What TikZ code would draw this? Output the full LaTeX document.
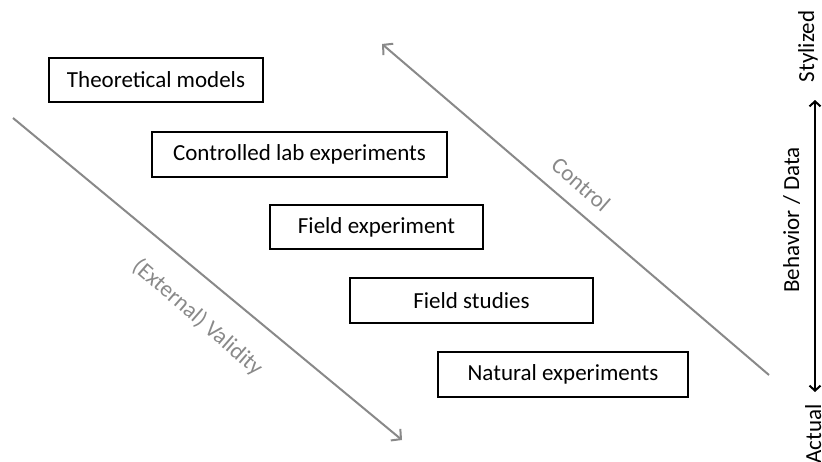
\documentclass[tikz,border=0pt]{standalone}
\usepackage{fontspec}
\setmainfont{Carlito}
\usetikzlibrary{arrows.meta}
\definecolor{axisgray}{RGB}{137,137,137}
\begin{document}
\begin{tikzpicture}[x=1pt,y=-1pt,
  lbl/.style={font=\fontsize{23}{27}\selectfont},
  methodbox/.style={lbl, draw=black, line width=2pt, inner sep=0pt},
  trend/.style={draw=axisgray, line width=2pt, -{Straight Barb[length=7pt,width=15pt,line width=2pt]}},
  trendlabel/.style={lbl, text=axisgray},
  scale axis/.style={draw=black, line width=2pt, {Straight Barb[length=5pt,width=11pt,line width=2pt]}-{Straight Barb[length=5pt,width=11pt,line width=2pt]}}]
  \useasboundingbox (0,0) rectangle (822,461);

  % research methods, from stylized to actual
  \node[methodbox, minimum width=214pt, minimum height=44pt] (theory) at (156,80) {Theoretical models};
  \node[methodbox, minimum width=295pt, minimum height=45pt] (lab) at (299.5,154.5) {Controlled lab experiments};
  \node[methodbox, minimum width=213pt, minimum height=44pt] (fieldexp) at (376.5,227) {Field experiment};
  \node[methodbox, minimum width=243pt, minimum height=45pt] (fieldstud) at (471.5,300.5) {Field studies};
  \node[methodbox, minimum width=250pt, minimum height=45pt] (natural) at (563,374.5) {Natural experiments};

  % validity and control trends
  \coordinate (valstart) at (13,118);
  \coordinate (valend) at (402,440);
  \coordinate (ctrlstart) at (769,375);
  \coordinate (ctrlend) at (382,44);
  \draw[trend] (valstart) -- (valend);
  \draw[trend] (ctrlstart) -- (ctrlend);
  \node[trendlabel, rotate=-41] (validity) at (197.5,317.5) {(External) Validity};
  \node[trendlabel, rotate=-41] (control) at (581,184) {Control};

  % behavior / data scale
  \coordinate (scaletop) at (815,100);
  \coordinate (scalebot) at (815,392);
  \draw[scale axis] (scalebot) -- (scaletop);
  \node[lbl, rotate=90, anchor=base] (stylized) at (814,46.5) {Stylized};
  \node[lbl, rotate=90, anchor=base] (actual) at (821,434) {Actual};
  \node[lbl, rotate=90, anchor=base] (behavior) at (799,220) {Behavior / Data};
\end{tikzpicture}
\end{document}
